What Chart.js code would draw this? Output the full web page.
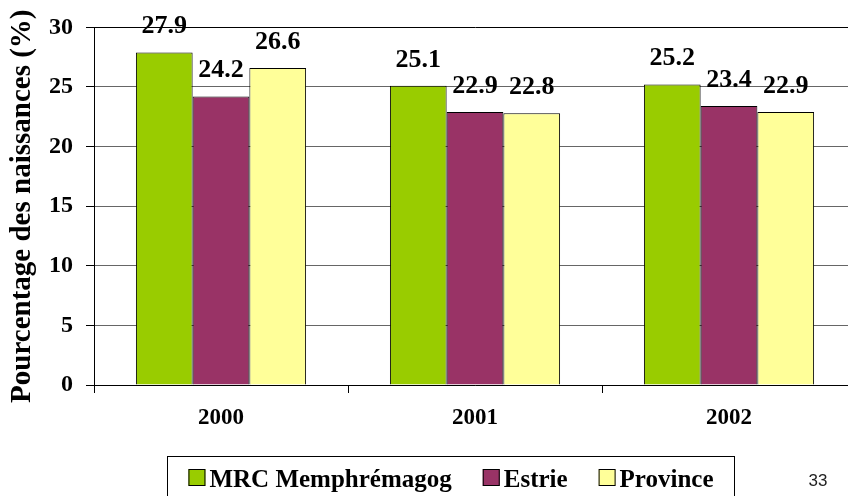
<!DOCTYPE html>
<html>
<head>
<meta charset="utf-8">
<script src="https://cdn.jsdelivr.net/npm/chart.js@4"></script>
<style>
  html, body { margin: 0; padding: 0; background: #fff; overflow: hidden; }
  #wrap { width: 860px; height: 496px; }
</style>
</head>
<body>
<div id="wrap"><canvas id="chart" width="860" height="496"></canvas></div>
<script>
const years = ['2000', '2001', '2002'];
const mrc = [27.9, 25.1, 25.2];
const estrie = [24.2, 22.9, 23.4];
const province = [26.6, 22.8, 22.9];
const yTicks = [0, 5, 10, 15, 20, 25, 30];
const pageNumber = '33';

const serif = '"Liberation Serif", "Times New Roman", serif';

// value labels above each bar
const valueLabels = {
  id: 'valueLabels',
  afterDatasetsDraw(chart) {
    const ctx = chart.ctx;
    ctx.save();
    ctx.font = 'bold 26px ' + serif;
    ctx.fillStyle = '#000';
    ctx.textAlign = 'center';
    ctx.textBaseline = 'middle';
    chart.data.datasets.forEach((ds, i) => {
      chart.getDatasetMeta(i).data.forEach((bar, j) => {
        ctx.fillText(ds.data[j].toFixed(1), bar.x, bar.y - 26);
      });
    });
    ctx.restore();
  }
};

// boxed legend at the bottom + page number
const boxLegend = {
  id: 'boxLegend',
  afterDraw(chart) {
    const ctx = chart.ctx;
    const box = { left: 167.5, top: 456.5, right: 734.5, bottom: 520 };
    const mark = 17, gap = 4, spacing = 31;
    ctx.save();
    ctx.strokeStyle = '#000';
    ctx.lineWidth = 1;
    ctx.strokeRect(box.left, box.top, box.right - box.left, box.bottom - box.top);

    ctx.font = 'bold 25px ' + serif;
    const items = chart.data.datasets.map(ds => ({
      label: ds.label, color: ds.backgroundColor, w: ctx.measureText(ds.label).width
    }));
    const total = items.reduce((s, it) => s + mark + gap + it.w, 0) + spacing * (items.length - 1);
    let x = (box.left + box.right) / 2 - total / 2;
    items.forEach(it => {
      ctx.fillStyle = it.color;
      ctx.fillRect(x, 469, mark, mark);
      ctx.strokeStyle = '#000';
      ctx.strokeRect(x + 0.5, 469.5, mark - 1, mark - 1);
      ctx.fillStyle = '#000';
      ctx.textAlign = 'left';
      ctx.textBaseline = 'alphabetic';
      ctx.fillText(it.label, x + mark + gap, 487);
      x += mark + gap + it.w + spacing;
    });

    ctx.font = '17px "Liberation Sans", Arial, sans-serif';
    ctx.fillStyle = '#222';
    ctx.textAlign = 'center';
    ctx.textBaseline = 'middle';
    ctx.fillText(pageNumber, 818, 481);
    ctx.restore();
  }
};

new Chart(document.getElementById('chart'), {
  type: 'bar',
  data: {
    labels: years,
    datasets: [
      { label: 'MRC Memphrémagog', data: mrc, backgroundColor: '#99CC00' },
      { label: 'Estrie', data: estrie, backgroundColor: '#993366' },
      { label: 'Province', data: province, backgroundColor: '#FFFF99' }
    ]
  },
  options: {
    responsive: false,
    animation: false,
    layout: { padding: { top: 25, right: 4, left: 0, bottom: 0 } },
    datasets: {
      bar: { categoryPercentage: 0.67, barPercentage: 1, borderWidth: 1, borderColor: '#000' }
    },
    plugins: { legend: { display: false }, tooltip: { enabled: false } },
    scales: {
      x: {
        grid: { offset: true, drawOnChartArea: false, drawTicks: true, tickLength: 8, color: '#000' },
        border: { color: '#000', width: 1 },
        ticks: { color: '#000', padding: 11, font: { family: serif, size: 23, weight: 'bold' } },
        afterFit(scale) { scale.height = 111; }
      },
      y: {
        min: 0,
        max: 30,
        afterBuildTicks(scale) { scale.ticks = yTicks.map(v => ({ value: v })); },
        grid: {
          color: ctx => ctx.tick && ctx.tick.value === 30 ? '#000' : '#666',
          tickColor: '#000',
          tickLength: 8
        },
        border: { color: '#000', width: 1 },
        ticks: { color: '#000', padding: 13, font: { family: serif, size: 24, weight: 'bold' } },
        title: {
          display: true,
          text: 'Pourcentage des naissances (%)',
          color: '#000',
          padding: { top: 5, bottom: 0 },
          font: { family: serif, size: 29, weight: 'bold' }
        },
        afterFit(scale) { scale.width = 94; }
      }
    }
  },
  plugins: [valueLabels, boxLegend]
});
</script>
</body>
</html>
